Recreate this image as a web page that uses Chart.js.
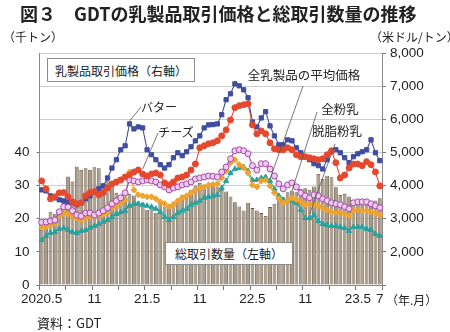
<!DOCTYPE html>
<html lang="ja">
<head>
<meta charset="UTF-8">
<title>GDTの乳製品取引価格と総取引数量の推移</title>
<script src="https://cdn.jsdelivr.net/npm/chart.js"></script>
<style>
  body { margin: 0; background: #fff; }
  #wrap { position: relative; width: 450px; height: 332px; font-family: "Noto Sans CJK JP", sans-serif; color: #222; }
  #c { position: absolute; left: 0; top: 0; }
  .t { position: absolute; white-space: nowrap; line-height: 1; }
  .mid { transform: translate(-50%, -50%); }
  .lft { transform: translate(0, -50%); }
  .box { position: absolute; background: #fff; border: 1px solid #8c8c8c; box-sizing: border-box;
         display: flex; align-items: center; justify-content: center; font-size: 12px; white-space: nowrap; }
</style>
</head>
<body>
<div id="wrap">
  <canvas id="c" width="450" height="332"></canvas>

  <div class="t" style="left:20px; top:4px; font-size:18px; font-weight:bold;">図３　GDTの乳製品取引価格と総取引数量の推移</div>
  <div class="t lft" style="left:3px; top:37px; font-size:12px;">（千トン）</div>
  <div class="t lft" style="left:370px; top:37px; font-size:12px;">（米ドル/トン）</div>
  <div class="t lft" style="left:386px; top:300px; font-size:12px;">（年.月）</div>
  <div class="t lft" style="left:37px; top:322px; font-size:13px;">資料：GDT</div>

  <div class="box" style="left:47px; top:58px; width:148px; height:24px;">乳製品取引価格（右軸）</div>
  <div class="box" style="left:165px; top:242px; width:128px; height:23px;">総取引数量（左軸）</div>

  <div class="t mid" style="left:159px; top:107px; font-size:12px;">バター</div>
  <div class="t mid" style="left:176px; top:132px; font-size:12px;">チーズ</div>
  <div class="t mid" style="left:304px; top:75px; font-size:12.5px;">全乳製品の平均価格</div>
  <div class="t mid" style="left:340px; top:109px; font-size:12.5px;">全粉乳</div>
  <div class="t mid" style="left:337px; top:131px; font-size:12.5px;">脱脂粉乳</div>
</div>

<script>
// 月（GDTは月2回の取引）
const months = [
  '2020.5','2020.6','2020.7','2020.8','2020.9','2020.10','2020.11','2020.12',
  '2021.1','2021.2','2021.3','2021.4','2021.5','2021.6','2021.7','2021.8','2021.9','2021.10','2021.11','2021.12',
  '2022.1','2022.2','2022.3','2022.4','2022.5','2022.6','2022.7','2022.8','2022.9','2022.10','2022.11','2022.12',
  '2023.1','2023.2','2023.3','2023.4','2023.5','2023.6','2023.7'
];

// x軸の目盛ラベル
const xTickIndex = [0, 12, 24, 36, 48, 60, 72, 77];
const xTickText = ['2020.5', '11', '21.5', '11', '22.5', '11', '23.5', '7'];
const leftTicks = [0, 10, 20, 30, 40];
const rightTicks = [2000, 3000, 4000, 5000, 6000, 7000, 8000];

// 総取引数量（千トン）
const volume = [16.6,19.5,22.1,21.5,21.0,25.7,32.7,31.2,35.7,34.7,35.2,34.7,35.5,35.2,30.7,32.3,29.7,27.8,25.7,26.7,
  27.5,27.0,25.2,24.8,22.7,23.3,21.8,25.2,23.7,24.2,25.2,26.0,27.2,26.3,28.7,30.0,30.8,30.2,30.5,30.7,
  29.5,28.7,28.2,26.7,25.0,23.7,22.5,24.8,23.2,22.5,21.7,20.8,23.5,24.5,25.5,26.5,28.0,28.5,28.0,29.0,
  29.2,28.7,29.7,33.5,32.0,33.0,32.5,29.5,27.2,27.5,26.7,25.2,24.7,24.2,24.2,24.7,25.5,26.2];

// 価格（米ドル/トン）
const butter = [3870,3840,3690,3630,3570,3540,3510,3480,3420,3480,3600,3690,3810,3900,3990,4230,4530,4780,5080,5200,
  5860,5710,5770,5740,5080,4930,4780,4630,4530,4630,4840,4990,4900,5020,5170,5350,5500,5740,5830,5840,
  5860,6140,6590,6770,7070,7010,6890,6650,5920,5770,6040,6230,5800,5500,5230,5230,5380,5350,5140,4990,
  4870,4780,4660,4600,4500,4780,5020,5080,4990,4840,4690,4870,4960,5020,5080,5380,4990,4750];

const cheese = [4140,3900,3600,3660,3780,3790,3660,3510,3450,3480,3690,3780,3820,3720,3780,3930,4050,4110,4170,4260,
  4320,4410,4470,4350,4290,4350,4380,4320,4080,4020,4110,4230,4260,4320,4470,4650,5140,5200,5260,5290,
  5350,5500,5680,5980,6350,6410,6440,6470,5830,5560,5650,5560,5290,5110,5080,5080,5140,5080,4930,4870,
  4870,4840,4810,4780,4810,4930,5050,4690,4230,4320,4530,4650,4650,4600,4720,4630,4410,3990];

const allAvg = [2890,2900,2930,2960,3210,3360,3360,3240,3110,3080,3170,3170,3110,3170,3240,3330,3450,3540,3630,3780,
  4170,4140,4110,4140,4170,4140,4110,4020,3960,3870,3930,3960,4020,4050,4110,4200,4230,4260,4290,4280,
  4260,4410,4560,4810,5050,5080,5050,4960,4600,4470,4660,4660,4500,4290,4050,3900,4020,4080,3960,3780,
  3690,3630,3720,3690,3600,3540,3480,3450,3420,3360,3300,3480,3510,3510,3510,3450,3390,3330];

const wmp = [2740,2750,2810,2870,3080,3180,3140,3080,3020,2960,3020,3050,3080,3110,3140,3200,3330,3390,3480,3570,
  4410,3870,3720,3690,3660,3660,3600,3510,3450,3360,3420,3540,3630,3690,3780,3870,3930,3960,4020,4030,
  4050,4230,4440,4690,4780,4630,4530,4380,4020,3960,4140,4170,3990,3780,3600,3480,3540,3630,3570,3510,
  3420,3450,3420,3390,3330,3270,3200,3180,3180,3140,3080,3240,3270,3240,3240,3200,3180,3110];

const smp = [2360,2480,2570,2600,2690,2720,2660,2600,2570,2630,2660,2720,2780,2840,2900,2960,3050,3140,3200,3240,
  3390,3450,3450,3420,3390,3360,3300,3200,3050,2960,3050,3180,3240,3300,3420,3480,3540,3630,3660,3690,
  3720,3930,4140,4380,4500,4530,4560,4440,4170,4170,4230,4260,4140,3900,3690,3570,3540,3540,3480,3270,
  3020,3020,3110,2930,2840,2810,2780,2780,2750,2720,2630,2750,2750,2750,2690,2660,2540,2480];

const categories = [];
months.forEach(m => { categories.push(m + ' 前半'); categories.push(m + ' 後半'); });

// 引き出し線（ラベル側の位置 → データ点）
const leaders = [
  { from: [141, 107], data: butter, idx: 20, dy: -3 },
  { from: [158, 133], data: cheese, idx: 23, dy: -5 },
  { from: [303, 86],  data: allAvg, idx: 52, dy: 10 },
  { from: [317, 112], data: wmp,    idx: 57, dy: -7 },
  { from: [335, 144], data: smp,    idx: 61, dy: -4 }
];

const leaderPlugin = {
  id: 'leaders',
  afterDatasetsDraw(chart) {
    const ctx = chart.ctx;
    const xs = chart.scales.x, ys = chart.scales.y2;
    ctx.save();
    ctx.strokeStyle = '#555';
    ctx.lineWidth = 0.8;
    leaders.forEach(l => {
      const x = xs.getPixelForValue(l.idx);
      const y = ys.getPixelForValue(l.data[l.idx]) + l.dy;
      ctx.beginPath();
      ctx.moveTo(l.from[0], l.from[1]);
      ctx.lineTo(x, y);
      ctx.stroke();
    });
    ctx.restore();
  }
};

const tickFont = { family: '"Liberation Sans", Arial, sans-serif', size: 13.5 };

function lineSet(label, data, color, fill, style, order) {
  return {
    type: 'line', label: label, data: data, yAxisID: 'y2', order: order,
    borderColor: color, borderWidth: 1.1, tension: 0,
    pointStyle: style, pointRadius: 3, pointBorderWidth: 1,
    pointBackgroundColor: fill, pointBorderColor: color
  };
}

new Chart(document.getElementById('c'), {
  type: 'bar',
  data: {
    labels: categories,
    datasets: [
      lineSet('チーズ', cheese, '#e5482c', '#e5482c', 'circle', 1),
      lineSet('バター', butter, '#3f4ea0', '#3f4ea0', 'rect', 2),
      lineSet('全乳製品の平均価格', allAvg, '#a04aa6', '#f2c9f0', 'circle', 3),
      lineSet('全粉乳', wmp, '#f0a22e', '#f0a22e', 'rectRot', 4),
      lineSet('脱脂粉乳', smp, '#27a3a0', '#27a3a0', 'triangle', 5),
      {
        type: 'bar', label: '総取引数量', data: volume, yAxisID: 'y', order: 10,
        backgroundColor: '#ab9c88', borderColor: '#5f5447', borderWidth: 0.8,
        barPercentage: 0.86, categoryPercentage: 1
      }
    ]
  },
  options: {
    responsive: false,
    animation: false,
    layout: { padding: { top: 53, left: 0, right: 0, bottom: 0 } },
    plugins: { legend: { display: false }, tooltip: { enabled: false } },
    scales: {
      x: {
        type: 'category',
        offset: true,
        grid: {
          display: true, drawOnChartArea: false, drawTicks: true, tickLength: 5, offset: true,
          tickColor: c => (c.index === undefined || c.index % 6 === 0) ? '#777' : 'rgba(0,0,0,0)'
        },
        border: { color: '#888' },
        ticks: {
          autoSkip: false, maxRotation: 0, minRotation: 0, padding: 1, color: '#222', font: tickFont,
          callback: (v, i) => { const k = xTickIndex.indexOf(i); return k >= 0 ? xTickText[k] : ''; }
        },
        afterFit: s => { s.height = 47; }
      },
      y: {
        position: 'left', min: 0, max: 70,
        grid: {
          color: '#cdcdcd', tickLength: 3,
          tickColor: c => (c.tick && leftTicks.includes(c.tick.value)) ? '#777' : 'rgba(0,0,0,0)'
        },
        border: { color: '#888' },
        ticks: {
          stepSize: 10, padding: 7, color: '#222', font: tickFont,
          callback: v => leftTicks.includes(v) ? v : ''
        },
        afterFit: s => { s.width = 39.5; }
      },
      y2: {
        position: 'right', min: 1000, max: 8000,
        grid: { drawOnChartArea: false, tickLength: 4, tickColor: '#777' },
        border: { color: '#888' },
        ticks: {
          stepSize: 1000, padding: 4, color: '#222', font: tickFont,
          callback: v => rightTicks.includes(v) ? v.toLocaleString('en-US') : ''
        },
        afterFit: s => { s.width = 68; }
      }
    }
  },
  plugins: [leaderPlugin]
});
</script>
</body>
</html>
